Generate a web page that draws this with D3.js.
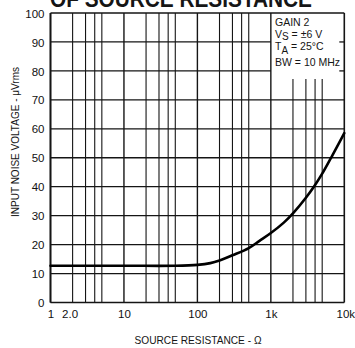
<!DOCTYPE html>
<html><head><meta charset="utf-8">
<script src="https://cdn.jsdelivr.net/npm/d3@7"></script>
<style>
body{margin:0;background:#fff;}
svg{display:block;}
.tick text{font-family:"Liberation Sans",Arial,sans-serif;font-size:11.5px;fill:#111;}
</style></head>
<body>
<svg id="c" width="355" height="348"></svg>
<script>
// Data
const resistance = [1, 10, 50, 100, 150, 200, 300, 500, 700, 1000, 1500, 2000, 3000, 4000, 5000, 7000, 10000];
const noise      = [12.7, 12.7, 12.7, 13.0, 13.6, 14.5, 16.3, 18.8, 21.3, 24, 27.6, 30.8, 36.2, 40.6, 44.5, 51.2, 58.5];
const xTickValues = [1, 2, 10, 100, 1000, 10000];
const xTickLabels = ["1", "2.0", "10", "100", "1k", "10k"];
const yTickValues = [0, 10, 20, 30, 40, 50, 60, 70, 80, 90, 100];
const gridMult = [1, 2, 3, 4, 5];
const decades = [1, 10, 100, 1000];
const notes = ["GAIN 2", "V|S| = ±6 V", "T|A| = 25°C", "BW = 10 MHz"];

const svg = d3.select("#c");
const x = d3.scaleLog().domain([1, 10000]).range([50.5, 344.3]);
const y = d3.scaleLinear().domain([0, 100]).range([302.5, 13]);
const ink = "#151515";
const condensed = "Liberation Sans, Arial, sans-serif";

// Title (cropped at top)
svg.append("text").attr("x", 50).attr("y", 6.5)
  .attr("textLength", 262).attr("lengthAdjust", "spacingAndGlyphs")
  .style("font-family", "Liberation Sans, Arial, sans-serif").style("font-weight", "bold")
  .style("font-size", "24px").attr("fill", ink).text("OF SOURCE RESISTANCE");

const g = svg.append("g");
const boxBottomVal = 77.2;

// vertical grid
decades.forEach(d => gridMult.forEach(m => {
  const v = d * m;
  const inBox = d === 1000 && m > 1;
  g.append("line").attr("x1", x(v)).attr("x2", x(v))
    .attr("y1", inBox ? y(boxBottomVal) : y(100)).attr("y2", y(0))
    .attr("stroke", ink).attr("stroke-width", m === 1 ? 1.4 : 1.1);
}));
g.append("line").attr("x1", x(10000)).attr("x2", x(10000)).attr("y1", y(100)).attr("y2", y(0))
  .attr("stroke", ink).attr("stroke-width", 1.6);

// horizontal grid
yTickValues.forEach(v => {
  const inBox = v >= 80 && v < 100;
  const sw = (v === 0 || v === 100) ? 1.6 : 1.3;
  if (inBox) {
    g.append("line").attr("x1", x(1)).attr("x2", x(1000)).attr("y1", y(v)).attr("y2", y(v))
      .attr("stroke", ink).attr("stroke-width", sw);
    g.append("line").attr("x1", x(10000) - 5).attr("x2", x(10000)).attr("y1", y(v)).attr("y2", y(v))
      .attr("stroke", ink).attr("stroke-width", sw);
  } else {
    g.append("line").attr("x1", x(1)).attr("x2", x(10000)).attr("y1", y(v)).attr("y2", y(v))
      .attr("stroke", ink).attr("stroke-width", sw);
  }
});
g.append("line").attr("x1", x(1)).attr("x2", x(1)).attr("y1", y(100)).attr("y2", y(0))
  .attr("stroke", ink).attr("stroke-width", 1.8);

// curve
const line = d3.line().x((d, i) => x(resistance[i])).y(d => y(d)).curve(d3.curveCatmullRom.alpha(0.5));
g.append("path").attr("d", line(noise)).attr("fill", "none").attr("stroke", "#000")
  .attr("stroke-width", 2.6).attr("stroke-linecap", "round");

// axes
const xAxis = d3.axisBottom(x).tickValues(xTickValues)
  .tickFormat((d, i) => xTickLabels[i]).tickSize(0).tickPadding(0);
const xa = svg.append("g").attr("transform", `translate(0,${y(0) + 15.5})`).call(xAxis);
xa.select(".domain").remove();
xa.selectAll(".tick text").attr("dy", 0).attr("dx", (d) => d === 2 ? -3 : (d === 10000 ? 1 : 0));

const yAxis = d3.axisLeft(y).tickValues(yTickValues).tickSize(0).tickPadding(6);
const ya = svg.append("g").attr("transform", `translate(${x(1)},0)`).call(yAxis);
ya.select(".domain").remove();
ya.selectAll(".tick text").attr("dy", "0.36em");

// axis titles
svg.append("text").attr("x", 198).attr("y", 344).attr("text-anchor", "middle")
  .attr("textLength", 127).attr("lengthAdjust", "spacingAndGlyphs")
  .style("font-family", condensed)
  .style("font-size", "11.5px").attr("fill", ink).text("SOURCE RESISTANCE - Ω");
svg.append("text").attr("transform", "translate(19,142) rotate(-90)").attr("text-anchor", "middle")
  .attr("textLength", 150).attr("lengthAdjust", "spacingAndGlyphs")
  .style("font-family", condensed)
  .style("font-size", "11.5px").attr("fill", ink).text("INPUT NOISE VOLTAGE - μVrms");

// annotations
const noteY = [25.5, 38, 50, 65.5];
const subDy = [0, 2, 4, 0];
notes.forEach((n, i) => {
  const t = svg.append("text").attr("x", 275).attr("y", noteY[i])
    .style("font-family", condensed)
    .style("font-size", "10.5px").attr("fill", ink);
  const parts = n.split("|");
  if (parts.length === 1) { t.text(n); }
  else {
    t.append("tspan").text(parts[0]);
    t.append("tspan").attr("dy", subDy[i]).style("font-size", "10px").text(parts[1]);
    t.append("tspan").attr("dy", -subDy[i]).text(parts[2]);
  }
});
</script>
</body></html>
